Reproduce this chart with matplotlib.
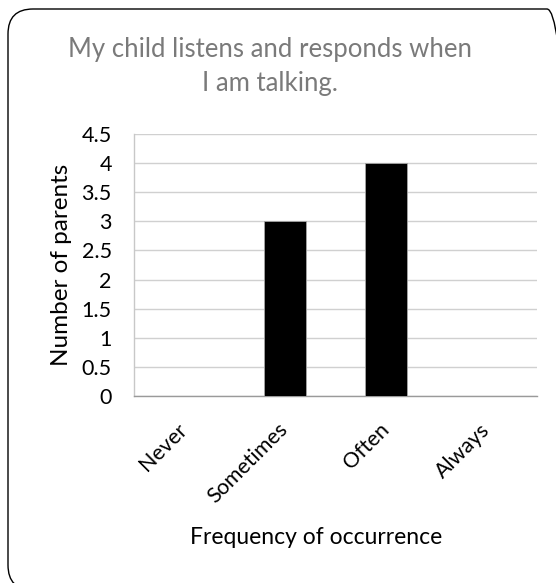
import matplotlib
matplotlib.use("Agg")
import matplotlib.pyplot as plt
from matplotlib.patches import FancyBboxPatch

categories = ["Never", "Sometimes", "Often", "Always"]
counts = [0, 3, 4, 0]
y_ticks = [0, 0.5, 1, 1.5, 2, 2.5, 3, 3.5, 4, 4.5]
y_tick_labels = ["0", "0.5", "1", "1.5", "2", "2.5", "3", "3.5", "4", "4.5"]

title = "My child listens and responds when\nI am talking."
x_label = "Frequency of occurrence"
y_label = "Number of parents"

plt.rcParams["font.family"] = ["Lato", "DejaVu Sans"]

W, H = 556, 583
DPI = 100
fig = plt.figure(figsize=(W / DPI, H / DPI), dpi=DPI)

# rounded outer frame (in inches, so the corners stay circular)
fx0, fx1, fy_top, fy_bot = 8, 572, 9, 590
frame = FancyBboxPatch((fx0 / DPI, (H - fy_bot) / DPI),
                       (fx1 - fx0) / DPI, (fy_bot - fy_top) / DPI,
                       boxstyle="round,pad=0,rounding_size=0.25",
                       transform=fig.dpi_scale_trans, facecolor="none",
                       edgecolor="black", linewidth=1.0, zorder=-1)
fig.patches.append(frame)

left, right, top, bottom = 134, 537, 134, 396
ax = fig.add_axes([left / W, 1 - bottom / H, (right - left) / W, (bottom - top) / H])
ax.set_facecolor("none")

x = range(len(categories))
ax.bar(x, counts, width=0.415, color="black", edgecolor="#a6a6a6",
       linewidth=0.6, zorder=3)

ax.set_xlim(-0.5, len(categories) - 0.5)
ax.set_ylim(0, 4.5)
ax.set_yticks(y_ticks)
ax.set_yticklabels(y_tick_labels, fontsize=15.5)
ax.yaxis.grid(True, color="#d0d0d0", linewidth=1.0, zorder=0)
ax.set_axisbelow(True)
ax.tick_params(axis="y", length=0, pad=16)
ax.tick_params(axis="x", length=0, pad=22)

ax.set_xticks(list(x))
ax.set_xticklabels(categories, fontsize=15.5, rotation=45, ha="right",
                   va="center", rotation_mode="anchor")

for side in ("top", "right"):
    ax.spines[side].set_visible(False)
ax.spines["left"].set_color("#c8c8c8")
ax.spines["bottom"].set_color("#9a9a9a")
ax.spines["left"].set_linewidth(1.0)
ax.spines["bottom"].set_linewidth(1.0)

fig.text(270 / W, 1 - 66 / H, title, ha="center", va="center",
         fontsize=18.5, color="#7a7a7a", linespacing=1.45)
fig.text(316 / W, 1 - 538 / H, x_label, ha="center", va="center",
         fontsize=16.5, color="black")
fig.text(61 / W, 1 - 265 / H, y_label, ha="center", va="center",
         rotation=90, fontsize=17.5, color="black")

fig.savefig("out.png", dpi=DPI)
